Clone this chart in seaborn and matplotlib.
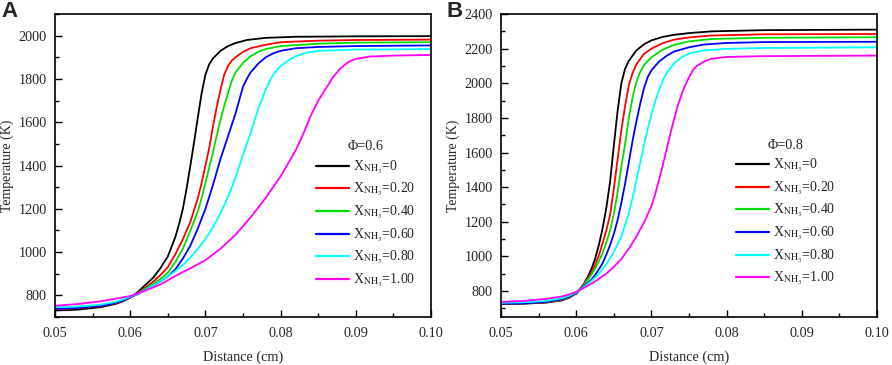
import numpy as np
import pandas as pd
import matplotlib
matplotlib.use('Agg')
import matplotlib.pyplot as plt
from matplotlib.ticker import MultipleLocator, FormatStrFormatter
import seaborn as sns

sns.set_style('ticks')
plt.rcParams['font.family'] = ['Liberation Serif', 'DejaVu Serif']
plt.rcParams['mathtext.fontset'] = 'stix'

# legend labels / colours
labels = [r'X$_{\mathrm{NH}_3}$=0', r'X$_{\mathrm{NH}_3}$=0.20', r'X$_{\mathrm{NH}_3}$=0.40',
          r'X$_{\mathrm{NH}_3}$=0.60', r'X$_{\mathrm{NH}_3}$=0.80', r'X$_{\mathrm{NH}_3}$=1.00']
colors = ['#000000', '#ff0000', '#00e000', '#0000ff', '#00ffff', '#ff00ff']

# Panel A, phi = 0.6  -> (distance cm, temperature K) pairs
a_x0 = [0.050, 0.053, 0.056, 0.058, 0.059, 0.060, 0.061, 0.062, 0.063, 0.064, 0.065, 0.066, 0.0665, 0.067, 0.0675, 0.068, 0.0685, 0.069, 0.0695, 0.070, 0.0705, 0.071, 0.072, 0.073, 0.074, 0.0755, 0.078, 0.082, 0.090, 0.100]
a_t0 = [730, 734, 745, 760, 772, 790, 815, 848, 880, 925, 980, 1070, 1130, 1200, 1295, 1400, 1510, 1625, 1735, 1820, 1868, 1895, 1930, 1952, 1966, 1980, 1990, 1995, 1997, 1998]
a_x1 = [0.050, 0.053, 0.056, 0.058, 0.059, 0.060, 0.061, 0.062, 0.063, 0.064, 0.065, 0.066, 0.067, 0.068, 0.069, 0.0695, 0.070, 0.0705, 0.071, 0.0715, 0.072, 0.0725, 0.073, 0.0735, 0.074, 0.075, 0.076, 0.078, 0.080, 0.085, 0.090, 0.100]
a_t1 = [737, 741, 750, 763, 774, 790, 810, 835, 862, 893, 930, 990, 1060, 1140, 1250, 1320, 1400, 1480, 1580, 1670, 1750, 1820, 1860, 1885, 1900, 1925, 1942, 1958, 1970, 1977, 1980, 1982]
a_x2 = [0.050, 0.053, 0.056, 0.058, 0.059, 0.060, 0.061, 0.062, 0.063, 0.064, 0.065, 0.066, 0.067, 0.068, 0.069, 0.0695, 0.070, 0.0705, 0.071, 0.0715, 0.072, 0.0725, 0.073, 0.0735, 0.074, 0.075, 0.076, 0.077, 0.078, 0.080, 0.085, 0.090, 0.100]
a_t2 = [742, 745, 753, 766, 776, 792, 808, 830, 852, 876, 905, 955, 1015, 1100, 1190, 1250, 1320, 1390, 1460, 1540, 1610, 1675, 1735, 1790, 1830, 1875, 1905, 1925, 1938, 1952, 1963, 1968, 1970]
a_x3 = [0.050, 0.053, 0.056, 0.058, 0.059, 0.060, 0.061, 0.062, 0.063, 0.064, 0.065, 0.066, 0.067, 0.068, 0.069, 0.070, 0.071, 0.072, 0.073, 0.074, 0.075, 0.0755, 0.076, 0.077, 0.078, 0.079, 0.080, 0.082, 0.085, 0.090, 0.100]
a_t3 = [738, 742, 751, 765, 776, 792, 806, 825, 845, 865, 888, 920, 970, 1030, 1110, 1200, 1310, 1430, 1535, 1640, 1765, 1800, 1830, 1870, 1900, 1918, 1930, 1942, 1948, 1952, 1955]
a_x4 = [0.050, 0.053, 0.056, 0.058, 0.059, 0.060, 0.061, 0.062, 0.063, 0.064, 0.065, 0.066, 0.067, 0.068, 0.069, 0.070, 0.071, 0.072, 0.073, 0.074, 0.075, 0.076, 0.077, 0.078, 0.079, 0.080, 0.081, 0.082, 0.0835, 0.085, 0.090, 0.100]
a_t4 = [745, 748, 757, 770, 780, 794, 808, 825, 845, 866, 888, 912, 940, 975, 1015, 1060, 1115, 1180, 1255, 1345, 1450, 1550, 1660, 1750, 1820, 1860, 1885, 1905, 1922, 1930, 1936, 1938]
a_x5 = [0.050, 0.053, 0.056, 0.058, 0.060, 0.062, 0.064, 0.066, 0.068, 0.070, 0.072, 0.074, 0.076, 0.078, 0.080, 0.082, 0.083, 0.084, 0.085, 0.086, 0.087, 0.088, 0.089, 0.090, 0.092, 0.095, 0.100]
a_t5 = [752, 760, 772, 784, 797, 822, 850, 890, 925, 963, 1015, 1080, 1160, 1250, 1350, 1470, 1545, 1630, 1700, 1755, 1810, 1850, 1878, 1893, 1904, 1908, 1911]

# Panel B, phi = 0.8
b_x0 = [0.050, 0.053, 0.056, 0.058, 0.059, 0.060, 0.061, 0.0615, 0.062, 0.0625, 0.063, 0.0635, 0.064, 0.0645, 0.065, 0.0655, 0.066, 0.0665, 0.067, 0.068, 0.069, 0.070, 0.0715, 0.073, 0.075, 0.078, 0.085, 0.100]
b_t0 = [725, 727, 733, 745, 760, 785, 840, 880, 925, 985, 1065, 1160, 1280, 1430, 1640, 1840, 2000, 2085, 2130, 2190, 2225, 2248, 2268, 2280, 2290, 2300, 2307, 2310]
b_x1 = [0.050, 0.053, 0.056, 0.058, 0.059, 0.060, 0.061, 0.0615, 0.062, 0.0625, 0.063, 0.0635, 0.064, 0.0645, 0.065, 0.0655, 0.066, 0.0665, 0.067, 0.0675, 0.068, 0.069, 0.070, 0.0715, 0.073, 0.075, 0.078, 0.085, 0.100]
b_t1 = [727, 729, 735, 748, 763, 787, 838, 870, 905, 950, 1005, 1075, 1150, 1240, 1390, 1560, 1730, 1870, 1990, 2060, 2110, 2170, 2200, 2232, 2252, 2265, 2276, 2283, 2285]
b_x2 = [0.050, 0.053, 0.056, 0.058, 0.059, 0.060, 0.061, 0.0615, 0.062, 0.0625, 0.063, 0.0635, 0.064, 0.0645, 0.065, 0.0655, 0.066, 0.0665, 0.067, 0.0675, 0.068, 0.0685, 0.069, 0.070, 0.0715, 0.073, 0.075, 0.078, 0.085, 0.100]
b_t2 = [728, 730, 737, 750, 765, 788, 832, 862, 893, 930, 972, 1020, 1080, 1150, 1245, 1370, 1520, 1650, 1800, 1920, 2010, 2065, 2105, 2150, 2195, 2222, 2242, 2256, 2263, 2266]
b_x3 = [0.050, 0.053, 0.056, 0.058, 0.059, 0.060, 0.061, 0.062, 0.0625, 0.063, 0.0635, 0.064, 0.0645, 0.065, 0.0655, 0.066, 0.0665, 0.067, 0.0675, 0.068, 0.0685, 0.069, 0.0695, 0.070, 0.071, 0.072, 0.073, 0.075, 0.077, 0.080, 0.085, 0.100]
b_t3 = [726, 729, 737, 752, 767, 790, 826, 865, 892, 925, 960, 1010, 1065, 1130, 1210, 1310, 1420, 1545, 1670, 1780, 1880, 1970, 2035, 2075, 2125, 2158, 2183, 2208, 2224, 2233, 2238, 2240]
b_x4 = [0.050, 0.053, 0.056, 0.058, 0.059, 0.060, 0.061, 0.062, 0.063, 0.064, 0.065, 0.066, 0.067, 0.0675, 0.068, 0.0685, 0.069, 0.0695, 0.070, 0.0705, 0.071, 0.0715, 0.072, 0.073, 0.074, 0.075, 0.077, 0.080, 0.085, 0.100]
b_t4 = [732, 735, 743, 758, 772, 793, 822, 858, 900, 955, 1025, 1115, 1250, 1340, 1440, 1540, 1640, 1735, 1820, 1895, 1960, 2015, 2058, 2115, 2150, 2172, 2190, 2199, 2204, 2208]
b_x5 = [0.050, 0.053, 0.056, 0.058, 0.059, 0.060, 0.061, 0.062, 0.063, 0.064, 0.065, 0.066, 0.067, 0.068, 0.069, 0.070, 0.0705, 0.071, 0.0715, 0.072, 0.0725, 0.073, 0.0735, 0.074, 0.0745, 0.075, 0.0755, 0.076, 0.077, 0.078, 0.080, 0.085, 0.100]
b_t5 = [737, 743, 755, 768, 780, 795, 818, 842, 870, 900, 940, 985, 1045, 1115, 1195, 1290, 1360, 1440, 1525, 1615, 1705, 1790, 1870, 1935, 1990, 2035, 2075, 2100, 2125, 2142, 2152, 2157, 2160]

xa = [a_x0, a_x1, a_x2, a_x3, a_x4, a_x5]
ta = [a_t0, a_t1, a_t2, a_t3, a_t4, a_t5]
xb = [b_x0, b_x1, b_x2, b_x3, b_x4, b_x5]
tb = [b_t0, b_t1, b_t2, b_t3, b_t4, b_t5]


def long_df(xs, ts):
    rows = []
    for lab, x, t in zip(labels, xs, ts):
        for xi, ti in zip(x, t):
            rows.append({'Distance': xi, 'Temperature': ti, 'case': lab})
    return pd.DataFrame(rows)


fig = plt.figure(figsize=(8.92, 3.65), dpi=100)
ax_a = fig.add_axes([0.0617, 0.1315, 0.4215, 0.830])
ax_b = fig.add_axes([0.5617, 0.1315, 0.4215, 0.830])

panels = [(ax_a, xa, ta, (700, 2100), 'Φ=0.6', (0.675, 0.607), 'A', 0.002),
          (ax_b, xb, tb, (650, 2400), 'Φ=0.8', (0.606, 0.612), 'B', 0.501)]

for ax, xs, ts, ylim, title, anchor, letter, fx in panels:
    df = long_df(xs, ts)
    sns.lineplot(data=df, x='Distance', y='Temperature', hue='case', palette=colors,
                 hue_order=labels, estimator=None, sort=False, lw=1.3, ax=ax)
    ax.set_xlim(0.05, 0.10)
    ax.set_ylim(*ylim)
    ax.xaxis.set_major_locator(MultipleLocator(0.01))
    ax.xaxis.set_minor_locator(MultipleLocator(0.005))
    ax.xaxis.set_major_formatter(FormatStrFormatter('%.2f'))
    ax.yaxis.set_minor_locator(MultipleLocator(100))
    ax.set_yticks(list(range(800, ylim[1] + 1, 200)))
    ax.tick_params(which='both', direction='in', labelsize=10.3, color='black', width=1)
    ax.tick_params(which='major', length=5)
    ax.tick_params(which='minor', length=3)
    ax.tick_params(axis='x', pad=7)
    ax.tick_params(axis='y', pad=6)
    for s in ax.spines.values():
        s.set_visible(True)
        s.set_linewidth(1.2)
        s.set_color('black')
    ax.set_xlabel('Distance (cm)', fontsize=10.3, labelpad=8)
    ax.set_ylabel('Temperature (K)', fontsize=10, labelpad=3)
    leg = ax.legend(title=title, loc='upper left', bbox_to_anchor=anchor, frameon=False,
                    fontsize=10, title_fontsize=10.3, handlelength=2.4, handletextpad=0.3,
                    labelspacing=0.4, borderpad=0)
    for h in leg.get_lines():
        h.set_linewidth(1.6)
    fig.text(fx, 0.998, letter, fontsize=16, fontweight='bold', va='top', ha='left',
             family='Liberation Sans')

fig.savefig('out.png', dpi=100)
